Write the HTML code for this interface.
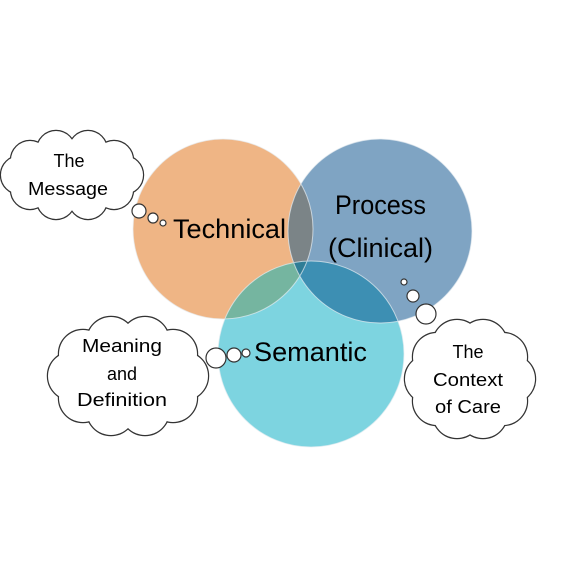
<!DOCTYPE html>
<html><head><style>html,body{margin:0;padding:0;background:#fff}</style></head>
<body>
<svg width="576" height="576" viewBox="0 0 576 576" xmlns="http://www.w3.org/2000/svg" font-family="Liberation Sans, sans-serif">
<defs>
<clipPath id="cT"><circle cx="223" cy="229" r="90"/></clipPath>
<clipPath id="cP"><circle cx="380" cy="231" r="92"/></clipPath>
<clipPath id="cS"><circle cx="311" cy="354" r="93"/></clipPath>
</defs>
<circle cx="223" cy="229" r="90" fill="#efb585"/>
<circle cx="380" cy="231" r="92" fill="#7fa4c3"/>
<circle cx="311" cy="354" r="93" fill="#7dd4e0"/>
<circle cx="380" cy="231" r="92" fill="#7b8487" clip-path="url(#cT)"/>
<circle cx="311" cy="354" r="93" fill="#75b5a0" clip-path="url(#cT)"/>
<circle cx="311" cy="354" r="93" fill="#3d8fb3" clip-path="url(#cP)"/>
<g clip-path="url(#cT)"><circle cx="311" cy="354" r="93" fill="#2f7d96" clip-path="url(#cP)"/></g>
<g fill="none" stroke="#e8eef2" stroke-width="1" opacity="0.7">
<circle cx="223" cy="229" r="90"/><circle cx="380" cy="231" r="92"/><circle cx="311" cy="354" r="93"/>
</g>

<!-- clouds: stroke layer -->
<g stroke="#333" stroke-width="2.4" fill="#fff">
<circle cx="124" cy="175" r="19"/><circle cx="114" cy="190" r="19"/><circle cx="88" cy="200" r="19"/><circle cx="56" cy="200" r="19"/><circle cx="30" cy="190" r="19"/><circle cx="20" cy="175" r="19"/><circle cx="30" cy="160" r="19"/><circle cx="56" cy="150" r="19"/><circle cx="88" cy="150" r="19"/><circle cx="114" cy="160" r="19"/>
<circle cx="184" cy="376" r="24"/><circle cx="173" cy="398" r="24"/><circle cx="145" cy="411" r="24"/><circle cx="111" cy="411" r="24"/><circle cx="83" cy="398" r="24"/><circle cx="72" cy="376" r="24"/><circle cx="83" cy="354" r="24"/><circle cx="111" cy="341" r="24"/><circle cx="145" cy="341" r="24"/><circle cx="173" cy="354" r="24"/>
<circle cx="511" cy="379" r="24"/><circle cx="503" cy="401" r="24"/><circle cx="483" cy="414" r="24"/><circle cx="457" cy="414" r="24"/><circle cx="437" cy="401" r="24"/><circle cx="429" cy="379" r="24"/><circle cx="437" cy="357" r="24"/><circle cx="457" cy="344" r="24"/><circle cx="483" cy="344" r="24"/><circle cx="503" cy="357" r="24"/>
</g>
<g fill="#fff">
<circle cx="124" cy="175" r="19"/><circle cx="114" cy="190" r="19"/><circle cx="88" cy="200" r="19"/><circle cx="56" cy="200" r="19"/><circle cx="30" cy="190" r="19"/><circle cx="20" cy="175" r="19"/><circle cx="30" cy="160" r="19"/><circle cx="56" cy="150" r="19"/><circle cx="88" cy="150" r="19"/><circle cx="114" cy="160" r="19"/>
<ellipse cx="72" cy="175" rx="55" ry="30"/>
<circle cx="184" cy="376" r="24"/><circle cx="173" cy="398" r="24"/><circle cx="145" cy="411" r="24"/><circle cx="111" cy="411" r="24"/><circle cx="83" cy="398" r="24"/><circle cx="72" cy="376" r="24"/><circle cx="83" cy="354" r="24"/><circle cx="111" cy="341" r="24"/><circle cx="145" cy="341" r="24"/><circle cx="173" cy="354" r="24"/>
<ellipse cx="128" cy="376" rx="60" ry="40"/>
<circle cx="511" cy="379" r="24"/><circle cx="503" cy="401" r="24"/><circle cx="483" cy="414" r="24"/><circle cx="457" cy="414" r="24"/><circle cx="437" cy="401" r="24"/><circle cx="429" cy="379" r="24"/><circle cx="437" cy="357" r="24"/><circle cx="457" cy="344" r="24"/><circle cx="483" cy="344" r="24"/><circle cx="503" cy="357" r="24"/>
<ellipse cx="470" cy="379" rx="45" ry="40"/>
</g>
<!-- bubbles -->
<g stroke="#333" stroke-width="1.2" fill="#fff">
<circle cx="139" cy="211" r="7"/><circle cx="153" cy="218" r="5"/><circle cx="163" cy="223" r="3"/>
<circle cx="216" cy="358" r="10"/><circle cx="234" cy="355" r="7"/><circle cx="246" cy="353" r="4"/>
<circle cx="404" cy="282" r="3"/><circle cx="413" cy="296" r="6"/><circle cx="426" cy="314" r="10"/>
</g>

<g fill="#000" text-anchor="middle" font-size="18">
<text x="69" y="167">The</text>
<text x="68" y="195" textLength="80" lengthAdjust="spacingAndGlyphs">Message</text>
<text x="122" y="352" textLength="80" lengthAdjust="spacingAndGlyphs">Meaning</text>
<text x="122" y="380">and</text>
<text x="122" y="406" textLength="90" lengthAdjust="spacingAndGlyphs">Definition</text>
<text x="468" y="358">The</text>
<text x="468" y="386" textLength="70" lengthAdjust="spacingAndGlyphs">Context</text>
<text x="468" y="413" textLength="66" lengthAdjust="spacingAndGlyphs">of Care</text>
</g>
<g fill="#000" font-size="27">
<text x="173" y="238" textLength="113" lengthAdjust="spacingAndGlyphs">Technical</text>
<text x="335" y="214" textLength="91" lengthAdjust="spacingAndGlyphs">Process</text>
<text x="328" y="257" textLength="105" lengthAdjust="spacingAndGlyphs">(Clinical)</text>
<text x="254" y="361" textLength="113" lengthAdjust="spacingAndGlyphs">Semantic</text>
</g>
</svg>
</body></html>
